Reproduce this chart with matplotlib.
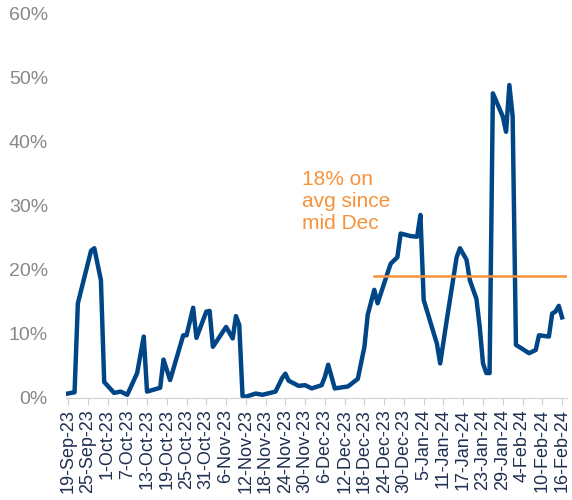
import pandas as pd
import matplotlib.pyplot as plt

plt.rcParams['font.family'] = ['Liberation Sans', 'DejaVu Sans']

# Data
dates = ['2023-09-19', '2023-09-21', '2023-09-22', '2023-09-26', '2023-09-27', '2023-09-29',
         '2023-09-30', '2023-10-03', '2023-10-05', '2023-10-07', '2023-10-10', '2023-10-12',
         '2023-10-13', '2023-10-17', '2023-10-18', '2023-10-20', '2023-10-24', '2023-10-25',
         '2023-10-27', '2023-10-28', '2023-10-31', '2023-11-01', '2023-11-02', '2023-11-06',
         '2023-11-08', '2023-11-09', '2023-11-10', '2023-11-11', '2023-11-12', '2023-11-15',
         '2023-11-17', '2023-11-21', '2023-11-23', '2023-11-24', '2023-11-25', '2023-11-28',
         '2023-11-30', '2023-12-02', '2023-12-05', '2023-12-06', '2023-12-07', '2023-12-09',
         '2023-12-13', '2023-12-16', '2023-12-18', '2023-12-19', '2023-12-21', '2023-12-22',
         '2023-12-25', '2023-12-26', '2023-12-28', '2023-12-29', '2024-01-01', '2024-01-03',
         '2024-01-04', '2024-01-05', '2024-01-09', '2024-01-10', '2024-01-12', '2024-01-15',
         '2024-01-16', '2024-01-18', '2024-01-19', '2024-01-21', '2024-01-22', '2024-01-23',
         '2024-01-24', '2024-01-25', '2024-01-26', '2024-01-29', '2024-01-30', '2024-01-31',
         '2024-02-01', '2024-02-02', '2024-02-06', '2024-02-08', '2024-02-09', '2024-02-12',
         '2024-02-13', '2024-02-14', '2024-02-15', '2024-02-16']
values = [0.7, 0.9, 14.8, 23.0, 23.4, 18.4,
          2.5, 0.8, 1.0, 0.5, 3.9, 9.6,
          1.0, 1.6, 6.0, 2.8, 9.8, 9.8,
          14.1, 9.4, 13.5, 13.6, 8.0, 11.1,
          9.3, 12.8, 11.4, 0.3, 0.2, 0.7,
          0.5, 1.0, 3.1, 3.8, 2.7, 1.9,
          2.0, 1.5, 2.0, 3.3, 5.2, 1.5,
          1.8, 3.0, 8.0, 13.0, 16.9, 14.8,
          19.5, 21.0, 22.0, 25.7, 25.3, 25.2,
          28.6, 15.3, 8.5, 5.4, 12.2, 22.0,
          23.4, 21.6, 18.4, 15.5, 11.1, 5.4,
          3.9, 3.9, 47.6, 44.0, 41.6, 48.9,
          44.0, 8.3, 7.0, 7.5, 9.8, 9.6,
          13.2, 13.5, 14.4, 12.6]

avg_level = 19.0
avg_start = '2023-12-21 00:00'
avg_end = '2024-02-17 12:00'

x = pd.to_datetime(dates)

fig = plt.figure(figsize=(5.72, 5.0), dpi=100)
ax = fig.add_axes([66 / 572, 0.204, 501 / 572, 0.768])

ax.plot(x, values, color='#004585', lw=3.2, solid_joinstyle='round')
ax.plot(pd.to_datetime([avg_start, avg_end]), [avg_level, avg_level], color='#F7923A', lw=1.8)
ax.text(pd.Timestamp('2023-11-29'), 35.6, '18% on\navg since\nmid Dec', color='#F7923A',
        fontsize=15, va='top', ha='left', linespacing=1.2)

ax.set_ylim(0, 60)
ax.set_yticks(range(0, 61, 10))
ax.set_yticklabels([f'{v}%' for v in range(0, 61, 10)])
ax.set_xlim(pd.Timestamp('2023-09-19') - pd.Timedelta(days=0.6), pd.Timestamp('2024-02-17 12:00'))
ticks = pd.date_range('2023-09-19', '2024-02-16', freq='6D')
ax.set_xticks(ticks)
ax.set_xticklabels([f'{d.day}-{d.strftime("%b-%y")}' for d in ticks], rotation=90)

for s in ['top', 'right', 'left']:
    ax.spines[s].set_visible(False)
ax.spines['bottom'].set_color('#D0D0D0')
ax.tick_params(axis='y', length=0, labelsize=14, colors='#888888', pad=13)
ax.tick_params(axis='x', length=5, color='#D0D0D0', labelsize=13, labelcolor='#1F2F50', pad=3)

fig.savefig('out.png', dpi=100)
